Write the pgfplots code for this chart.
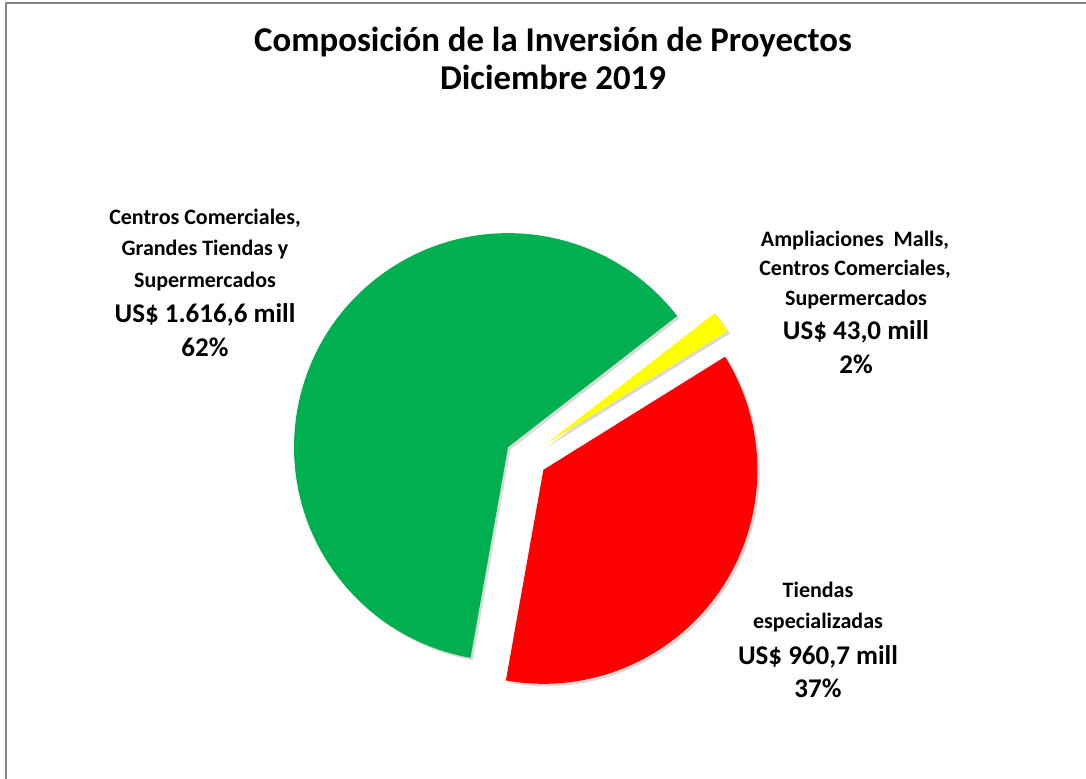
\documentclass[border=0pt]{standalone}
\usepackage{fontspec}
\setmainfont{Carlito}
\usepackage{pgfplots}
\usepackage{pgfplotstable}
\pgfplotsset{compat=1.18}

\definecolor{SliceGreen}{RGB}{0,176,80}
\definecolor{SliceRed}{RGB}{255,0,0}
\definecolor{SliceYellow}{RGB}{255,255,0}
\definecolor{FrameGray}{RGB}{134,134,134}

% inversion en US$ millones
\pgfplotstableread{
value
1616.6
960.7
43.0
}\pietable

\begin{document}
\begin{tikzpicture}
  \pgfplotstablegetelem{0}{value}\of\pietable \let\vG\pgfplotsretval
  \pgfplotstablegetelem{1}{value}\of\pietable \let\vR\pgfplotsretval
  \pgfplotstablegetelem{2}{value}\of\pietable \let\vY\pgfplotsretval
  \pgfmathsetmacro{\total}{\vG+\vR+\vY}
  \def\startG{37.8}
  \pgfmathsetmacro{\endG}{\startG+360*(\vG/\total)}
  \pgfmathsetmacro{\endR}{\endG+360*(\vR/\total)}
  \pgfmathsetmacro{\endY}{\endR+360*(\vY/\total)}
  % exploded slices around a common centre (526,320)
  \pgfmathsetmacro{\xG}{526+21*cos((\startG+\endG)/2)}
  \pgfmathsetmacro{\yG}{320+21*sin((\startG+\endG)/2)}
  \pgfmathsetmacro{\xR}{526+21*cos((\endG+\endR)/2)}
  \pgfmathsetmacro{\yR}{320+21*sin((\endG+\endR)/2)}
  \pgfmathsetmacro{\xY}{526+24*cos((\endR+\endY)/2)}
  \pgfmathsetmacro{\yY}{320+24*sin((\endR+\endY)/2)}
  \def\rad{107pt}
  \begin{axis}[
    scale only axis, width=543pt, height=389pt,
    xmin=0, xmax=1086, ymin=0, ymax=778,
    hide axis, clip=false
  ]
  % frame
  \draw[FrameGray, line width=1pt] (axis cs:5.5,-20) -- (axis cs:5.5,775) -- (axis cs:1100,775);
  % shadows
  \fill[black, opacity=0.15] ([shift={(1.2pt,-1.2pt)}]axis cs:\xG,\yG) -- ++(\startG:\rad) arc[start angle=\startG, end angle=\endG, radius=\rad] -- cycle;
  \fill[black, opacity=0.15] ([shift={(1.2pt,-1.2pt)}]axis cs:\xR,\yR) -- ++(\endG:\rad) arc[start angle=\endG, end angle=\endR, radius=\rad] -- cycle;
  \fill[black, opacity=0.15] ([shift={(1.2pt,-1.2pt)}]axis cs:\xY,\yY) -- ++(\endR:\rad) arc[start angle=\endR, end angle=\endY, radius=\rad] -- cycle;
  % slices
  \fill[SliceGreen] (axis cs:\xG,\yG) -- ++(\startG:\rad) arc[start angle=\startG, end angle=\endG, radius=\rad] -- cycle;
  \fill[SliceRed] (axis cs:\xR,\yR) -- ++(\endG:\rad) arc[start angle=\endG, end angle=\endR, radius=\rad] -- cycle;
  \fill[SliceYellow] (axis cs:\xY,\yY) -- ++(\endR:\rad) arc[start angle=\endR, end angle=\endY, radius=\rad] -- cycle;
  % title
  \node[anchor=base, font=\fontsize{17.4}{20}\selectfont\bfseries] at (axis cs:553,726) {Composición de la Inversión de Proyectos};
  \node[anchor=base, font=\fontsize{17.4}{20}\selectfont\bfseries] at (axis cs:553,688) {Diciembre 2019};
  % labels
  \tikzset{small/.style={anchor=base, font=\fontsize{11}{13}\selectfont\bfseries},
           big/.style={anchor=base, font=\fontsize{13.5}{16}\selectfont\bfseries}}
  \node[small] at (axis cs:205,553) {Centros Comerciales,};
  \node[small] at (axis cs:205,523) {Grandes Tiendas y};
  \node[small] at (axis cs:205,491) {Supermercados};
  \node[big] at (axis cs:205,456) {US\$ 1.616,6 mill};
  \node[big] at (axis cs:205,422) {62\%};
  \node[small] at (axis cs:855,531) {Ampliaciones\ \ Malls,};
  \node[small] at (axis cs:855,503) {Centros Comerciales,};
  \node[small] at (axis cs:856,473) {Supermercados};
  \node[big] at (axis cs:856,439) {US\$ 43,0 mill};
  \node[big] at (axis cs:856,405) {2\%};
  \node[small] at (axis cs:818,181) {Tiendas};
  \node[small] at (axis cs:818,150) {especializadas};
  \node[big] at (axis cs:818,114) {US\$ 960,7 mill};
  \node[big] at (axis cs:818,81) {37\%};
  \end{axis}
  \pgfresetboundingbox
  \useasboundingbox (0,0) rectangle (543pt,389pt);
\end{tikzpicture}
\end{document}
